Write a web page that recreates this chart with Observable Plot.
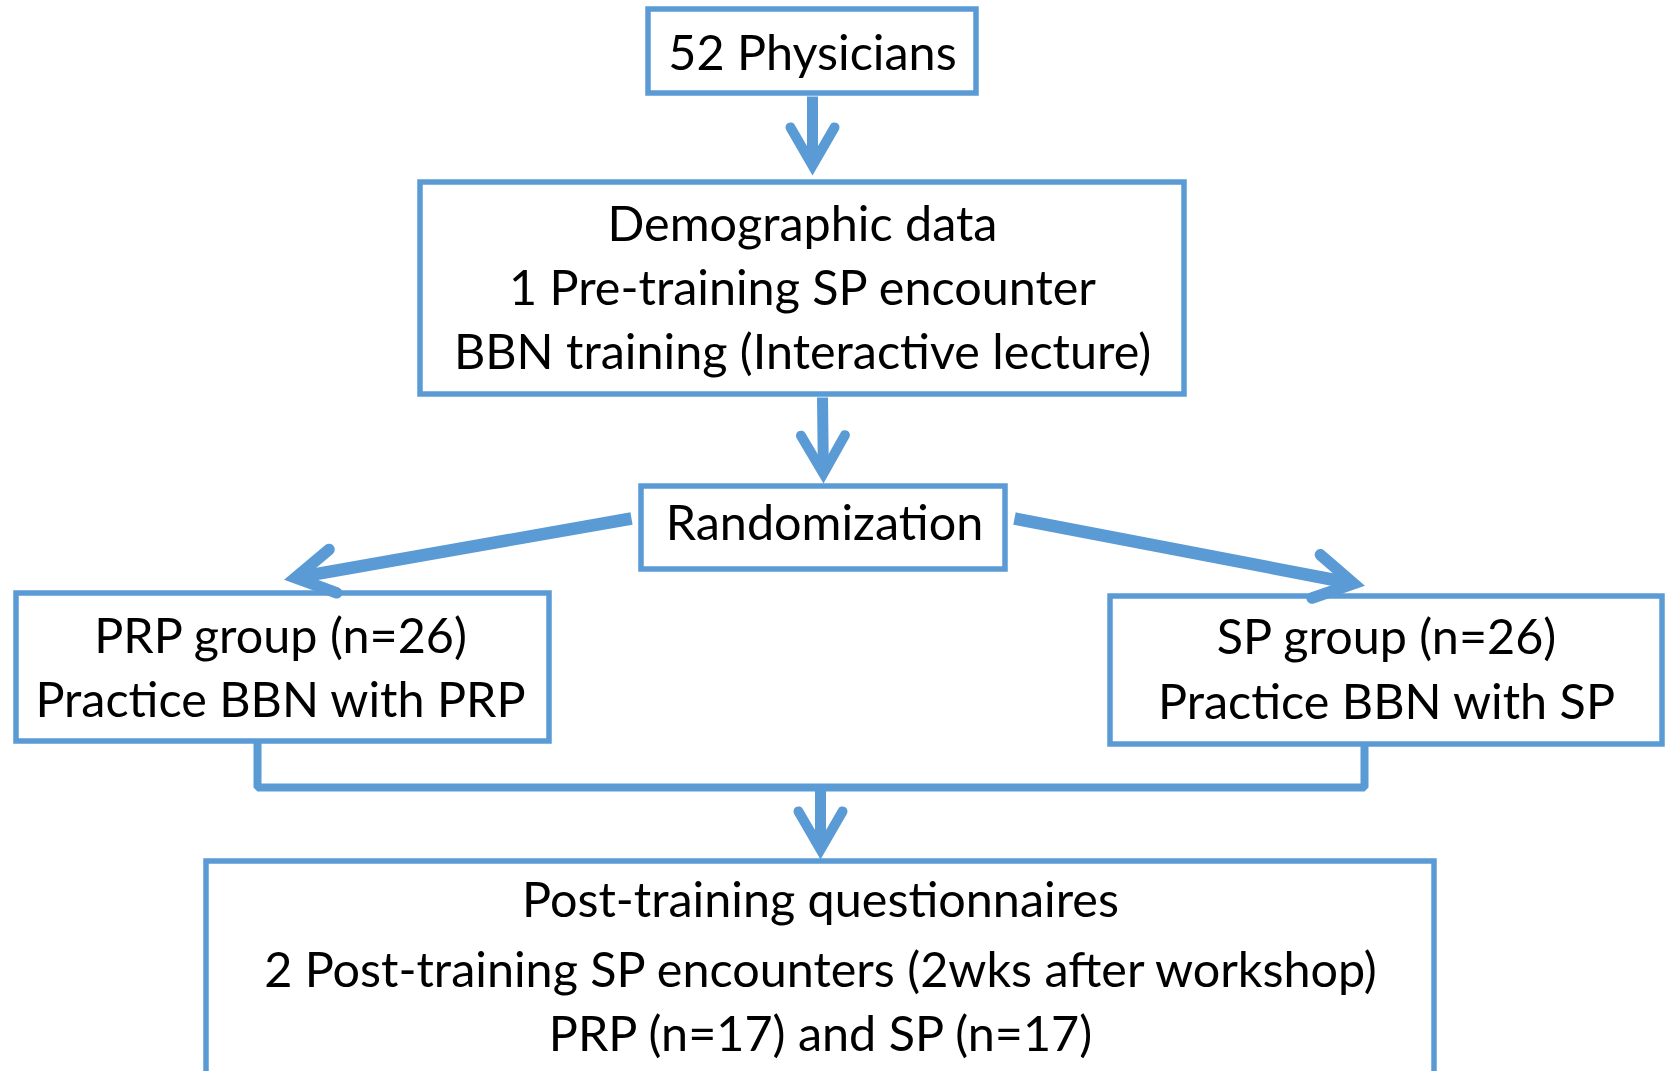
<!DOCTYPE html>
<html>
<head>
<meta charset="utf-8">
<script src="https://cdn.jsdelivr.net/npm/d3@7"></script>
<script src="https://cdn.jsdelivr.net/npm/@observablehq/plot@0.6"></script>
<style>
  html, body { margin: 0; padding: 0; background: #fff; overflow: hidden; }
  #chart svg { display: block; }
</style>
</head>
<body>
<div id="chart"></div>
<script>
// ---- Flowchart content ----
const nodeLines = [
  ["52 Physicians"],
  ["Demographic data", "1 Pre-training SP encounter", "BBN training (Interactive lecture)"],
  ["Randomization"],
  ["PRP group (n=26)", "Practice BBN with PRP"],
  ["SP group (n=26)", "Practice BBN with SP"],
  ["Post-training questionnaires", "2 Post-training SP encounters (2wks after workshop)", "PRP (n=17) and SP (n=17)"]
];
// node frames (diagram coordinates)
const nodeLeft   = [648, 420, 641, 16, 1110, 206];
const nodeRight  = [976, 1184, 1005, 549, 1662, 1434];
const nodeTop    = [9, 182, 486, 593, 596, 861];
const nodeBottom = [93, 394, 569, 741, 744, 1110];
const nodeCenter = [812, 802, 824, 280, 1386, 820];
const lineBaselines = [[69], [240, 304, 368], [539], [652, 716], [653, 718], [916, 986, 1050]];

// arrows: tail -> visible tip
const arrowFromX = [812, 822, 820, 631, 1014];
const arrowFromY = [96, 397, 787, 518, 518];
const arrowToX   = [812, 823, 820, 285, 1363];
const arrowToY   = [175, 483, 859, 579, 585];
const arrowThick = [11, 11, 11, 12.5, 12.5];

// merge connector from the two groups
const connectorX = [257, 257, 1364, 1364];
const connectorY = [741, 787, 787, 744];

// ---- build tables ----
const blue = "#5B9BD5";
const boxes = nodeLines.map((_, i) => ({x1: nodeLeft[i], x2: nodeRight[i], y1: nodeTop[i], y2: nodeBottom[i]}));
const texts = nodeLines.flatMap((lines, i) => lines.map((t, j) => ({x: nodeCenter[i], y: lineBaselines[i][j], text: t})));

const headLen = 44, headHalf = 30 * Math.PI / 180, tipInset = 10;
const shafts = [], heads = [];
arrowFromX.forEach((_, i) => {
  const dx = arrowToX[i] - arrowFromX[i], dy = arrowToY[i] - arrowFromY[i];
  const len = Math.hypot(dx, dy), ux = dx / len, uy = dy / len;
  const tx = arrowToX[i] - ux * tipInset, ty = arrowToY[i] - uy * tipInset;
  shafts.push({x1: arrowFromX[i], y1: arrowFromY[i], x2: tx - ux * 2, y2: ty - uy * 2, w: arrowThick[i]});
  const bx = -ux, by = -uy;
  const rot = (a) => [bx * Math.cos(a) - by * Math.sin(a), bx * Math.sin(a) + by * Math.cos(a)];
  const [ax, ay] = rot(headHalf), [cx, cy] = rot(-headHalf);
  heads.push({id: i, k: 0, x: tx + ax * headLen, y: ty + ay * headLen, w: arrowThick[i]});
  heads.push({id: i, k: 1, x: tx, y: ty, w: arrowThick[i]});
  heads.push({id: i, k: 2, x: tx + cx * headLen, y: ty + cy * headLen, w: arrowThick[i]});
});
const connector = connectorX.map((x, i) => ({x, y: connectorY[i]}));

const chart = Plot.plot({
  width: 1665,
  height: 1071,
  margin: 0,
  x: {domain: [0, 1665], range: [0, 1665], axis: null},
  y: {domain: [0, 1071], range: [0, 1071], axis: null},
  style: {background: "white", fontFamily: "Lato, 'Open Sans', sans-serif"},
  marks: [
    Plot.rect(boxes, {x1: "x1", x2: "x2", y1: "y1", y2: "y2", fill: "white", stroke: blue, strokeWidth: 5.5}),
    Plot.line(connector, {x: "x", y: "y", stroke: blue, strokeWidth: 8, strokeLinejoin: "miter", strokeLinecap: "butt"}),
    Plot.link(shafts, {x1: "x1", y1: "y1", x2: "x2", y2: "y2", stroke: blue, strokeWidth: "w", strokeLinecap: "butt"}),
    Plot.line(heads.filter(d => d.w < 12), {x: "x", y: "y", z: "id", stroke: blue, strokeWidth: 10, strokeLinejoin: "miter", strokeLinecap: "round", strokeMiterlimit: 10}),
    Plot.line(heads.filter(d => d.w >= 12), {x: "x", y: "y", z: "id", stroke: blue, strokeWidth: 11.5, strokeLinejoin: "miter", strokeLinecap: "round", strokeMiterlimit: 10}),
    Plot.text(texts, {x: "x", y: "y", text: "text", fontSize: 48.5, fill: "black", textAnchor: "middle", lineAnchor: "bottom", fontFamily: "Lato"})
  ]
});
document.getElementById("chart").appendChild(chart);
</script>
</body>
</html>
